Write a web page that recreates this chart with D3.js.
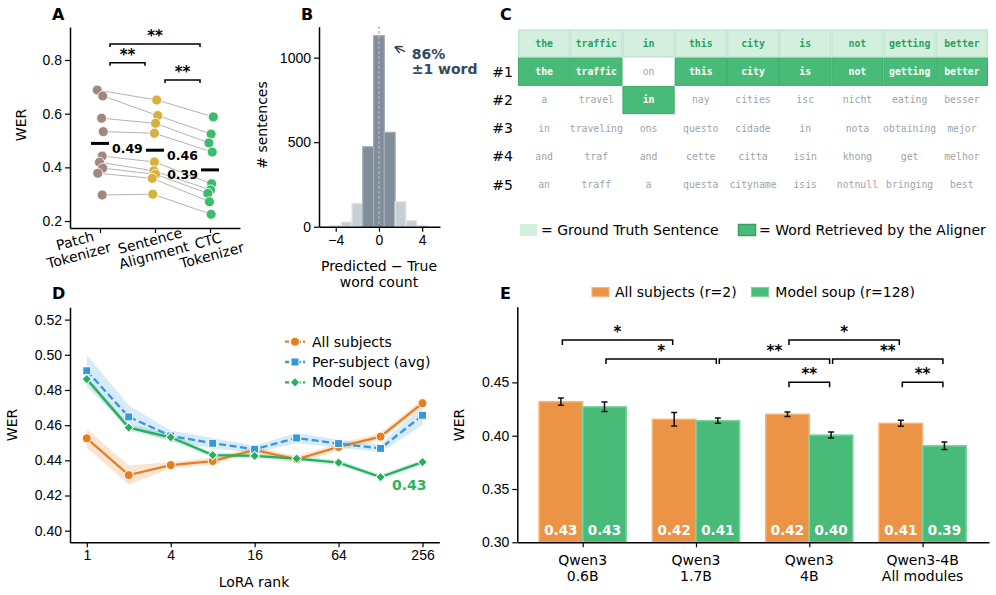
<!DOCTYPE html>
<html>
<head>
<meta charset="utf-8">
<script src="https://cdn.jsdelivr.net/npm/d3@7"></script>
<style>
  body { margin: 0; background: #fff; }
  svg { font-family: "DejaVu Sans", sans-serif; }
</style>
</head>
<body>
<div id="fig"></div>
<script>
// ---------- data ----------
// A: WER per subject for each tokenizer
const tokenizers = ['Patch|Tokenizer', 'Sentence|Alignment', 'CTC|Tokenizer'];
const patchWer = [0.688, 0.666, 0.583, 0.533, 0.442, 0.419, 0.397, 0.378, 0.297];
const sentenceWer = [0.651, 0.593, 0.564, 0.527, 0.420, 0.387, 0.374, 0.359, 0.300];
const ctcWer = [0.588, 0.524, 0.491, 0.457, 0.339, 0.316, 0.303, 0.272, 0.225];
const sigA = [
    {from: 0, to: 1, label: '**'},
    {from: 1, to: 2, label: '**'},
    {from: 0, to: 2, label: '**'}
];

// B: histogram of predicted - true word count
const countBins = [-4, -3, -2, -1, 0, 1, 2, 3, 4];
const countSentences = [6, 28, 138, 473, 1130, 558, 148, 36, 8];

// C: aligner candidates
const gtWords = ['the', 'traffic', 'in', 'this', 'city', 'is', 'not', 'getting', 'better'];
const rank1 = ['the', 'traffic', 'on', 'this', 'city', 'is', 'not', 'getting', 'better'];
const rank2 = ['a', 'travel', 'in', 'nay', 'cities', 'isc', 'nicht', 'eating', 'besser'];
const rank3 = ['in', 'traveling', 'ons', 'questo', 'cidade', 'in', 'nota', 'obtaining', 'mejor'];
const rank4 = ['and', 'traf', 'and', 'cette', 'citta', 'isin', 'khong', 'get', 'melhor'];
const rank5 = ['an', 'traff', 'a', 'questa', 'cityname', 'isis', 'notnull', 'bringing', 'best'];

// D: WER vs LoRA rank
const loraRanks = [1, 2, 4, 8, 16, 32, 64, 128, 256];
const allSubjects = [0.4525, 0.4316, 0.4373, 0.4396, 0.4459, 0.4406, 0.4476, 0.4535, 0.4725];
const allSubjectsCi = [0.0053, 0.0055, 0.0018, 0.0018, 0.0018, 0.0018, 0.0020, 0.0020, 0.0022];
const perSubject = [0.4909, 0.4647, 0.4539, 0.4497, 0.4463, 0.4527, 0.4495, 0.4468, 0.4656];
const perSubjectCi = [0.0090, 0.0065, 0.0030, 0.0030, 0.0020, 0.0030, 0.0022, 0.0022, 0.0055];
const modelSoup = [0.4862, 0.4586, 0.4531, 0.4430, 0.4425, 0.4410, 0.4387, 0.4305, 0.4390];
const modelSoupCi = [0.0018, 0.0018, 0.0018, 0.0015, 0.0015, 0.0015, 0.0015, 0.0015, 0.0015];

// E: WER by base model
const models = ['Qwen3|0.6B', 'Qwen3|1.7B', 'Qwen3|4B', 'Qwen3-4B|All modules'];
const allSubjR2 = [0.4319, 0.4154, 0.4201, 0.4116];
const allSubjR2Err = [0.0034, 0.0064, 0.0022, 0.0028];
const soupR128 = [0.4272, 0.4141, 0.4006, 0.3906];
const soupR128Err = [0.0044, 0.0025, 0.0028, 0.0036];
const sigE = [
    {a: 0, sa: 0, b: 1, sb: 0, label: '*', level: 2},
    {a: 0, sa: 1, b: 1, sb: 1, label: '*', level: 1},
    {a: 1, sa: 1, b: 2, sb: 1, label: '**', level: 1},
    {a: 2, sa: 0, b: 3, sb: 0, label: '*', level: 2},
    {a: 2, sa: 1, b: 3, sb: 1, label: '**', level: 1},
    {a: 2, sa: 0, b: 2, sb: 1, label: '**', level: 0},
    {a: 3, sa: 0, b: 3, sb: 1, label: '**', level: 0}
];

// ---------- setup ----------
const svg = d3.select('#fig').append('svg')
    .attr('width', 996).attr('height', 595);

function styleAxis(g) {
    g.selectAll('path').attr('stroke', '#000').attr('stroke-width', 1.5);
    g.selectAll('line').attr('stroke', '#000').attr('stroke-width', 1.2);
    g.selectAll('text').attr('font-size', 14).attr('fill', '#000');
}

function panelLabel(x, y, t) {
    svg.append('text').attr('x', x).attr('y', y).text(t)
        .attr('font-size', 16).attr('font-weight', 'bold');
}

function vLabel(x, y, t) {
    svg.append('text')
        .attr('transform', `translate(${x},${y}) rotate(-90)`)
        .attr('text-anchor', 'middle').attr('dy', '0.35em')
        .attr('font-size', 14).text(t);
}

function bracket(g, x1, x2, y, drop, label, starGap) {
    g.append('path')
        .attr('d', `M${x1},${y + drop}V${y}H${x2}V${y + drop}`)
        .attr('fill', 'none').attr('stroke', '#000').attr('stroke-width', 1.5);
    g.append('text').attr('x', (x1 + x2) / 2).attr('y', y - starGap)
        .attr('text-anchor', 'middle').attr('font-size', 15).attr('font-weight', 'bold')
        .text(label);
}

// ---------- A ----------
const aX = d3.scaleLinear().domain([-0.545, 2.545]).range([70, 240]);
const aY = d3.scaleLinear().domain([0.174, 0.923]).range([228, 27]);
const pA = svg.append('g');
const aSeries = [patchWer, sentenceWer, ctcWer];
const aJitter = [
    [-0.05, 0.05, 0.03, 0.06, 0.04, -0.01, 0.05, -0.04, 0.04],
    [0.03, 0.05, 0.01, -0.01, -0.01, -0.02, 0.01, -0.05, -0.04],
    [0.06, 0.02, -0.02, 0.04, 0.03, 0.01, -0.04, -0.01, 0.02]
];
const aColors = ['#a1887f', '#d6b13f', '#3dbb6e'];

pA.append('g').attr('transform', 'translate(70,0)')
    .call(d3.axisLeft(aY).tickValues([0.2, 0.4, 0.6, 0.8]).tickFormat(d3.format('.1f'))
        .tickSize(5).tickSizeOuter(0))
    .call(styleAxis);
pA.append('g').attr('transform', 'translate(0,228)')
    .call(d3.axisBottom(aX).tickValues([0, 1, 2]).tickFormat('').tickSize(5).tickSizeOuter(0))
    .call(styleAxis);

// subject lines
patchWer.forEach((_, i) => {
    const pts = aSeries.map((s, k) => [aX(k + aJitter[k][i]), aY(s[i])]);
    pA.append('path').attr('d', d3.line()(pts))
        .attr('fill', 'none').attr('stroke', '#aaa').attr('stroke-width', 0.9);
});
aSeries.forEach((s, k) => {
    pA.selectAll(null).data(s).enter().append('circle')
        .attr('cx', (d, i) => aX(k + aJitter[k][i]))
        .attr('cy', d => aY(d))
        .attr('r', 5)
        .attr('fill', aColors[k]).attr('stroke', '#fff').attr('stroke-width', 0.8);
});
// means
const labelShiftA = [12, 12, -12];
aSeries.forEach((s, k) => {
    const m = d3.mean(s);
    pA.append('line')
        .attr('x1', aX(k) - 9).attr('x2', aX(k) + 9)
        .attr('y1', aY(m)).attr('y2', aY(m))
        .attr('stroke', '#000').attr('stroke-width', 3);
    pA.append('text')
        .attr('x', aX(k) + labelShiftA[k]).attr('y', aY(m) + 5)
        .attr('dy', '0.35em')
        .attr('text-anchor', k === 2 ? 'end' : 'start')
        .attr('font-size', 12.5).attr('font-weight', 'bold')
        .text(d3.format('.2f')(m));
});
// significance
const aBracketY = [62.7, 80, 44];
sigA.forEach((s, i) => {
    bracket(pA, aX(s.from) + 10, aX(s.to) - 10, aBracketY[i], 3, s.label, 3);
});
// rotated category labels
const tickShiftA = [-23, -3, 0];
tokenizers.forEach((t, k) => {
    const g = pA.append('g')
        .attr('transform', `translate(${aX(k) + tickShiftA[k]},248) rotate(-15)`);
    t.split('|').forEach((line, j) => {
        g.append('text').attr('x', 0).attr('y', -7.5 + j * 15)
            .attr('dy', '0.35em').attr('text-anchor', 'middle')
            .attr('font-size', 14).text(line);
    });
});
vLabel(21, 125, 'WER');
panelLabel(52, 20, 'A');

// ---------- B ----------
const bX = d3.scaleLinear().domain([-5.55, 5.65]).range([319, 440]);
const bY = d3.scaleLinear().domain([0, 1183]).range([226.7, 26.7]);
const pB = svg.append('g');
pB.selectAll('rect').data(countBins).enter().append('rect')
    .attr('x', d => bX(d - 0.5))
    .attr('width', d => bX(d + 0.5) - bX(d - 0.5))
    .attr('y', (d, i) => bY(countSentences[i]))
    .attr('height', (d, i) => bY(0) - bY(countSentences[i]))
    .attr('fill', d => Math.abs(d) <= 1 ? '#808d9b' : '#c8ced5')
    .attr('stroke', d => Math.abs(d) <= 1 ? '#a3adb8' : '#e3e6ea')
    .attr('stroke-width', 1.2);
pB.append('line')
    .attr('x1', bX(0)).attr('x2', bX(0)).attr('y1', 26).attr('y2', bY(0))
    .attr('stroke', '#b5b5b5').attr('stroke-width', 1.3).attr('stroke-dasharray', '3,2');
pB.append('g').attr('transform', 'translate(319,0)')
    .call(d3.axisLeft(bY).tickValues([0, 500, 1000]).tickFormat(d3.format('d'))
        .tickSize(5).tickSizeOuter(0))
    .call(styleAxis);
pB.append('g').attr('transform', 'translate(0,226.7)')
    .call(d3.axisBottom(bX).tickValues([-4, 0, 4])
        .tickFormat(d => d < 0 ? '\u2212' + Math.abs(d) : d).tickSize(5).tickSizeOuter(0))
    .call(styleAxis);
// annotation
svg.append('defs').append('marker')
    .attr('id', 'arrowB').attr('viewBox', '0 0 10 10').attr('refX', 8).attr('refY', 5)
    .attr('markerWidth', 5).attr('markerHeight', 5).attr('orient', 'auto-start-reverse')
    .append('path').attr('d', 'M0,0L10,5L0,10').attr('fill', 'none')
    .attr('stroke', '#34495e').attr('stroke-width', 2);
pB.append('line')
    .attr('x1', 405).attr('y1', 51.7).attr('x2', 396).attr('y2', 47.3)
    .attr('stroke', '#34495e').attr('stroke-width', 1.5)
    .attr('marker-end', 'url(#arrowB)');
const pctNear = d3.sum(countBins.map((b, i) => Math.abs(b) <= 1 ? countSentences[i] : 0)) /
    d3.sum(countSentences);
pB.append('text').attr('x', 411.7).attr('y', 59)
    .attr('font-size', 14).attr('font-weight', 'bold').attr('fill', '#34495e')
    .text(Math.round(pctNear * 100) + '%');
pB.append('text').attr('x', 411.7).attr('y', 74)
    .attr('font-size', 14).attr('font-weight', 'bold').attr('fill', '#34495e')
    .text('\u00b11 word');
pB.append('text').attr('x', 379).attr('y', 271).attr('text-anchor', 'middle')
    .attr('font-size', 14).text('Predicted \u2212 True');
pB.append('text').attr('x', 379).attr('y', 287).attr('text-anchor', 'middle')
    .attr('font-size', 14).text('word count');
vLabel(262, 125, '# sentences');
panelLabel(301, 20, 'B');

// ---------- C ----------
const candRows = [rank1, rank2, rank3, rank4, rank5];
const cCol = d3.scaleBand().domain(d3.range(gtWords.length)).range([518, 988]);
const cRow = d3.scaleBand().domain(['gt', '#1', '#2', '#3', '#4', '#5']).range([29.3, 199]);
const pC = svg.append('g');
const mono = '"DejaVu Sans Mono", monospace';
const hitRank = gtWords.map((w, i) => candRows.findIndex(r => r[i] === w));

gtWords.forEach((w, i) => {
    pC.append('rect')
        .attr('x', cCol(i) + 0.75).attr('y', cRow('gt') + 0.75)
        .attr('width', cCol.bandwidth() - 1.5).attr('height', cRow.bandwidth() - 1.5)
        .attr('fill', '#d5efdf').attr('stroke', '#c3e6d0').attr('stroke-width', 1.5);
    pC.append('text')
        .attr('x', cCol(i) + cCol.bandwidth() / 2).attr('y', cRow('gt') + cRow.bandwidth() / 2)
        .attr('dy', '0.35em').attr('text-anchor', 'middle')
        .attr('font-family', mono).attr('font-size', 9.8).attr('font-weight', 'bold')
        .attr('fill', '#28a35a').text(w);
});
candRows.forEach((row, r) => {
    const key = '#' + (r + 1);
    pC.append('text')
        .attr('x', 513).attr('y', cRow(key) + cRow.bandwidth() / 2)
        .attr('dy', '0.35em').attr('text-anchor', 'end')
        .attr('font-size', 14).text(key);
    row.forEach((w, i) => {
        const hit = hitRank[i] === r;
        if (hit) {
            pC.append('rect')
                .attr('x', cCol(i) + 0.5).attr('y', cRow(key) + 0.5)
                .attr('width', cCol.bandwidth() - 1).attr('height', cRow.bandwidth() - 1)
                .attr('fill', '#48bb78').attr('stroke', '#3eaa6c').attr('stroke-width', 1);
        }
        pC.append('text')
            .attr('x', cCol(i) + cCol.bandwidth() / 2).attr('y', cRow(key) + cRow.bandwidth() / 2)
            .attr('dy', '0.35em').attr('text-anchor', 'middle')
            .attr('font-family', mono).attr('font-size', 9.8)
            .attr('font-weight', hit ? 'bold' : 'normal')
            .attr('fill', hit ? '#fff' : '#9ea3a8').text(w);
    });
});
// legend
pC.append('rect').attr('x', 520).attr('y', 224).attr('width', 17).attr('height', 12)
    .attr('fill', '#d5efdf');
pC.append('text').attr('x', 541).attr('y', 235).attr('font-size', 14)
    .text('= Ground Truth Sentence');
pC.append('rect').attr('x', 738.5).attr('y', 224.5).attr('width', 17).attr('height', 11)
    .attr('fill', '#48bb78').attr('stroke', '#3a9f65').attr('stroke-width', 1.5);
pC.append('text').attr('x', 759).attr('y', 235).attr('font-size', 14)
    .text('= Word Retrieved by the Aligner');
panelLabel(500, 20, 'C');

// ---------- D ----------
const dX = d3.scaleLog().base(2).domain([Math.pow(2, -0.4), Math.pow(2, 8.4)]).range([70, 439.3]);
const dY = d3.scaleLinear().domain([0.3934, 0.527]).range([542.3, 307.3]);
const pD = svg.append('g');
const dSeries = [
    {name: 'All subjects', vals: allSubjects, ci: allSubjectsCi, color: '#e67e22', dash: null, shape: 'circle'},
    {name: 'Per-subject (avg)', vals: perSubject, ci: perSubjectCi, color: '#3498db', dash: '7,3.5', shape: 'square'},
    {name: 'Model soup', vals: modelSoup, ci: modelSoupCi, color: '#27ae60', dash: null, shape: 'diamond'}
];
const symbolFor = {circle: d3.symbolCircle, square: d3.symbolSquare, diamond: d3.symbolSquare};
const symbolSize = {circle: 64, square: 64, diamond: 46};
const symbolRot = {circle: 0, square: 0, diamond: 45};

dSeries.forEach(s => {
    pD.append('path')
        .attr('d', d3.area()
            .x((d, i) => dX(loraRanks[i]))
            .y0((d, i) => dY(d - s.ci[i]))
            .y1((d, i) => dY(d + s.ci[i]))(s.vals))
        .attr('fill', s.color).attr('opacity', 0.2);
});
dSeries.forEach(s => {
    pD.append('path')
        .attr('d', d3.line().x((d, i) => dX(loraRanks[i])).y(d => dY(d))(s.vals))
        .attr('fill', 'none').attr('stroke', s.color).attr('stroke-width', 2.3)
        .attr('stroke-dasharray', s.dash);
    pD.selectAll(null).data(s.vals).enter().append('path')
        .attr('transform', (d, i) =>
            `translate(${dX(loraRanks[i])},${dY(d)}) rotate(${symbolRot[s.shape]})`)
        .attr('d', d3.symbol().type(symbolFor[s.shape]).size(symbolSize[s.shape]))
        .attr('fill', s.color).attr('stroke', '#fff').attr('stroke-width', 1);
});
pD.append('g').attr('transform', 'translate(70,0)')
    .call(d3.axisLeft(dY).tickValues([0.40, 0.42, 0.44, 0.46, 0.48, 0.50, 0.52])
        .tickFormat(d3.format('.2f')).tickSize(5).tickSizeOuter(0))
    .call(styleAxis);
pD.append('g').attr('transform', 'translate(0,542.3)')
    .call(d3.axisBottom(dX).tickValues([1, 4, 16, 64, 256]).tickFormat(d3.format('d'))
        .tickSize(5).tickSizeOuter(0))
    .call(styleAxis);
// legend
dSeries.forEach((s, i) => {
    const y = 341.7 + i * 20.3;
    pD.append('line').attr('x1', 285).attr('x2', 305).attr('y1', y).attr('y2', y)
        .attr('stroke', s.color).attr('stroke-width', 2.3).attr('stroke-dasharray', '4,2');
    pD.append('path').attr('transform', `translate(295,${y}) rotate(${symbolRot[s.shape]})`)
        .attr('d', d3.symbol().type(symbolFor[s.shape]).size(symbolSize[s.shape]))
        .attr('fill', s.color).attr('stroke', '#fff').attr('stroke-width', 1);
    pD.append('text').attr('x', 312).attr('y', y).attr('dy', '0.35em')
        .attr('font-size', 14).text(s.name);
});
const bestSoup = d3.min(modelSoup);
pD.append('text')
    .attr('x', dX(256) + 4).attr('y', dY(bestSoup) + 8).attr('dy', '0.35em')
    .attr('text-anchor', 'end').attr('font-size', 14).attr('font-weight', 'bold')
    .attr('fill', '#2eb35f').text(d3.format('.2f')(bestSoup));
pD.append('text').attr('x', 254).attr('y', 587).attr('text-anchor', 'middle')
    .attr('font-size', 14).text('LoRA rank');
vLabel(12, 425, 'WER');
panelLabel(52, 299, 'D');

// ---------- E ----------
const eX = d3.scaleLinear().domain([-0.577, 3.586]).range([517.3, 989]);
const eY = d3.scaleLinear().domain([0.30, 0.521]).range([542.3, 306.7]);
const pE = svg.append('g');
const barW = 0.385;
const eSeries = [
    {vals: allSubjR2, err: allSubjR2Err, fill: '#eb9446', edge: '#f5b67c', off: -1},
    {vals: soupR128, err: soupR128Err, fill: '#48bb78', edge: '#7fd3a2', off: 0}
];
eSeries.forEach(s => {
    pE.selectAll(null).data(s.vals).enter().append('rect')
        .attr('x', (d, i) => eX(i + s.off * barW))
        .attr('width', eX(barW) - eX(0))
        .attr('y', d => eY(d))
        .attr('height', d => eY(0.30) - eY(d))
        .attr('fill', s.fill).attr('stroke', s.edge).attr('stroke-width', 1.5);
    s.vals.forEach((d, i) => {
        const cx = eX(i + (s.off + 0.5) * barW);
        pE.append('path')
            .attr('d', `M${cx - 3},${eY(d - s.err[i])}H${cx + 3}M${cx},${eY(d - s.err[i])}` +
                `V${eY(d + s.err[i])}M${cx - 3},${eY(d + s.err[i])}H${cx + 3}`)
            .attr('stroke', '#111').attr('stroke-width', 1.5).attr('fill', 'none');
        pE.append('text').attr('x', cx).attr('y', 535).attr('text-anchor', 'middle')
            .attr('font-size', 13.5).attr('font-weight', 'bold').attr('fill', '#fff')
            .text(d3.format('.2f')(d));
    });
});
pE.append('g').attr('transform', 'translate(517.3,0)')
    .call(d3.axisLeft(eY).tickValues([0.30, 0.35, 0.40, 0.45])
        .tickFormat(d3.format('.2f')).tickSize(5).tickSizeOuter(0))
    .call(styleAxis);
pE.append('g').attr('transform', 'translate(0,542.3)')
    .call(d3.axisBottom(eX).tickValues(d3.range(models.length)).tickFormat('')
        .tickSize(5).tickSizeOuter(0))
    .call(styleAxis);
models.forEach((m, i) => {
    m.split('|').forEach((line, j) => {
        pE.append('text').attr('x', eX(i)).attr('y', 560.5 + j * 15.5)
            .attr('dy', '0.35em').attr('text-anchor', 'middle')
            .attr('font-size', 14).text(line);
    });
});
// significance brackets
const eLevelY = [382.3, 359, 340];
const barCenter = (i, s) => eX(i + (eSeries[s].off + 0.5) * barW);
sigE.forEach(s => {
    bracket(pE, barCenter(s.a, s.sa) + 1.5, barCenter(s.b, s.sb) - 1.5,
        eLevelY[s.level], 5, s.label, 3);
});
// legend
pE.append('rect').attr('x', 592).attr('y', 287.5).attr('width', 17).attr('height', 9)
    .attr('fill', '#eb9446').attr('stroke', '#f5b67c').attr('stroke-width', 1.2);
pE.append('text').attr('x', 615).attr('y', 292).attr('dy', '0.35em')
    .attr('font-size', 14).text('All subjects (r=2)');
pE.append('rect').attr('x', 751.5).attr('y', 287.5).attr('width', 17).attr('height', 9)
    .attr('fill', '#48bb78').attr('stroke', '#7fd3a2').attr('stroke-width', 1.2);
pE.append('text').attr('x', 775.3).attr('y', 292).attr('dy', '0.35em')
    .attr('font-size', 14).text('Model soup (r=128)');
vLabel(459.5, 425, 'WER');
panelLabel(500, 299, 'E');
</script>
</body>
</html>
